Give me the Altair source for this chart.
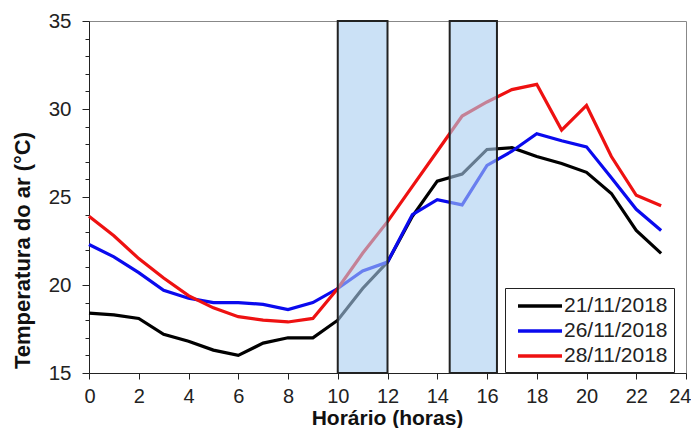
import altair as alt
import pandas as pd

hours = list(range(24))
labels = ["21/11/2018", "26/11/2018", "28/11/2018"]
s21 = [18.4, 18.3, 18.1, 17.2, 16.8, 16.3, 16.0, 16.7, 17.0, 17.0, 18.0, 19.8,
       21.3, 23.9, 25.9, 26.3, 27.7, 27.8, 27.3, 26.9, 26.4, 25.2, 23.1, 21.8]
s26 = [22.3, 21.6, 20.7, 19.7, 19.25, 19.0, 19.0, 18.9, 18.6, 19.0, 19.8, 20.8,
       21.3, 24.0, 24.85, 24.55, 26.8, 27.6, 28.6, 28.2, 27.85, 26.1, 24.3, 23.1]
s28 = [23.9, 22.8, 21.5, 20.4, 19.4, 18.7, 18.2, 18.0, 17.9, 18.1, 19.8, 21.8,
       23.6, 25.6, 27.6, 29.6, 30.4, 31.1, 31.4, 28.8, 30.2, 27.3, 25.1, 24.5]
colors = ["#000000", "#0a0aee", "#ee1111"]
band_start = [10, 14.5]
band_end = [12, 16.4]

rows = []
for lab, ser in zip(labels, [s21, s26, s28]):
    for h, v in zip(hours, ser):
        rows.append({"hora": h, "temp": v, "data": lab})
df = pd.DataFrame(rows)
bands = pd.DataFrame({"x0": band_start, "x1": band_end})

FONT = "Liberation Sans"
xvals = [i * 0.5 for i in range(49)]
yvals = list(range(15, 36))

xscale = alt.Scale(domain=[0, 24], nice=False, zero=False)
yscale = alt.Scale(domain=[15, 35], nice=False, zero=False)

lines = alt.Chart(df).mark_line(strokeWidth=3.2).encode(
    x=alt.X("hora:Q", scale=xscale, title="Horário (horas)",
            axis=alt.Axis(values=xvals,
                          labelExpr="datum.value % 2 == 0 ? datum.label : ''",
                          tickSize={"condition": {"test": "datum.value % 2 != 0", "value": 4}, "value": 6},
                          labelFontSize=20, labelFont=FONT, labelColor="#222",
                          labelFlush=True, labelFlushOffset=5,
                          labelPadding=7, titleFont=FONT, titleFontSize=21,
                          titleFontWeight="bold", titleColor="#111",
                          titleX=298, titleY=45, titleBaseline="middle",
                          titleAlign="center", grid=False,
                          domainColor="#222", tickColor="#222")),
    y=alt.Y("temp:Q", scale=yscale, title="Temperatura do ar (°C)",
            axis=alt.Axis(values=yvals,
                          labelExpr="datum.value % 5 == 0 ? datum.label : ''",
                          tickSize={"condition": {"test": "datum.value % 5 != 0", "value": 4}, "value": 7},
                          labelFontSize=20.5, labelFont=FONT, labelColor="#222",
                          labelPadding=11, titleFont=FONT, titleFontSize=22,
                          titleFontWeight="bold", titleColor="#111",
                          titleX=-67, titleY=229, titleAngle=270,
                          titleBaseline="middle", titleAlign="center",
                          grid=False, domainColor="#222", tickColor="#222")),
    color=alt.Color("data:N", scale=alt.Scale(domain=labels, range=colors),
                    legend=alt.Legend(title=None, orient="none", legendX=416, legendY=267,
                                      symbolType="M-0.5,0H3.9", symbolSize=400,
                                      symbolStrokeWidth=3.5, labelFontSize=21,
                                      labelFont=FONT, labelColor="#222",
                                      labelOffset=29, rowPadding=3,
                                      strokeColor="#222", fillColor="white",
                                      padding=6)),
)

rects = alt.Chart(bands).mark_rect(
    fill="#a8cdf0", fillOpacity=0.6, stroke="#222", strokeWidth=2
).encode(
    x=alt.X("x0:Q", scale=xscale),
    x2="x1:Q",
    y=alt.value(0),
    y2=alt.value(352),
)

chart = alt.layer(lines, rects).properties(
    width=597, height=352,
    autosize=alt.AutoSizeParams(type="none"),
    padding={"left": 81, "top": 13, "right": 5, "bottom": 55},
    background="white",
).configure_view(stroke="#888", strokeWidth=1)

chart.save("out.html", embed_options={"renderer": "svg", "actions": False})
